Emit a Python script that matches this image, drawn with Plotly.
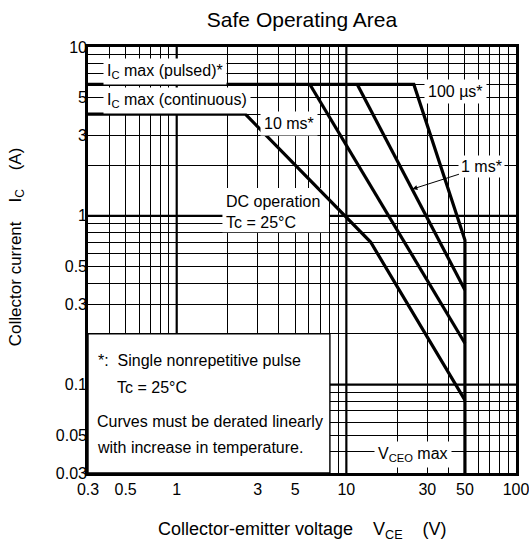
import numpy as np
import plotly.graph_objects as go

# ---------------- data ----------------
# Envelope: Ic max (pulsed) line, 100 us pulse limit, VCEO max
env_v = [0.3, 25, 50, 50]
env_i = [6, 6, 0.72, 0.03]
# 10 ms pulse
ms10_v = [6.1, 50]
ms10_i = [6, 0.176]
# 1 ms pulse
ms1_v = [11.6, 50]
ms1_i = [6, 0.364]
# DC operation (Ic max continuous)
dc_v = [0.3, 2.54, 13.9, 50]
dc_i = [4, 4, 0.70, 0.081]

x_ticks = [0.3, 0.5, 1, 3, 5, 10, 30, 50, 100]
x_ticktext = ["0.3", "0.5", "1", "3", "5", "10", "30", "50", "100"]
y_ticks = [0.03, 0.05, 0.1, 0.3, 0.5, 1, 3, 5, 10]
y_ticktext = ["0.03", "0.05", "0.1", "0.3", "0.5", "1", "3", "5", "10"]

x_minor = [0.3, 0.4, 0.5, 0.6, 0.7, 0.8, 0.9] + list(range(1, 10)) + list(range(10, 100, 10)) + [100]
y_minor = [0.03, 0.04, 0.05, 0.06, 0.07, 0.08, 0.09,
           0.1, 0.2, 0.3, 0.4, 0.5, 0.6, 0.7, 0.8, 0.9] + list(range(1, 11))
x_decades = [1, 10]
y_decades = [0.1, 1]

FONT = "Arial, Liberation Sans, Helvetica, sans-serif"
L = np.log10

fig = go.Figure()
line_style = dict(color="black", width=3.2)
for vx, iy in [(env_v, env_i), (ms10_v, ms10_i), (ms1_v, ms1_i), (dc_v, dc_i)]:
    fig.add_trace(go.Scatter(x=vx, y=iy, mode="lines", line=line_style,
                             hoverinfo="skip", showlegend=False))

shapes = []
for xv in x_decades:
    shapes.append(dict(type="line", xref="x", yref="paper", x0=xv, x1=xv, y0=0, y1=1,
                       line=dict(color="black", width=2.2), layer="between"))
for yv in y_decades:
    shapes.append(dict(type="line", xref="paper", yref="y", x0=0, x1=1, y0=yv, y1=yv,
                       line=dict(color="black", width=2.2), layer="between"))
# notes box
shapes.append(dict(type="rect", xref="x", yref="y", x0=0.3, x1=8, y0=0.03, y1=0.2,
                   fillcolor="white", line=dict(color="black", width=1.4), layer="between"))
# DC label background
shapes.append(dict(type="rect", xref="x", yref="y", x0=1.86, x1=7.9, y0=0.80, y1=1.46,
                   fillcolor="white", line=dict(width=0), layer="between"))

ann = []
lab = dict(font=dict(family=FONT, size=16, color="black"), showarrow=False,
           bgcolor="white", borderpad=3, xref="x", yref="y")
ann.append(dict(text="I<sub>C</sub> max (pulsed)*", x=L(0.368), y=L(7.2), xanchor="left", yanchor="middle", **lab))
ann.append(dict(text="I<sub>C</sub> max (continuous)", x=L(0.368), y=L(4.85), xanchor="left", yanchor="middle", **lab))
ann.append(dict(text="10 ms*", x=L(4.56), y=L(3.5), xanchor="center", yanchor="middle", **lab))
ann.append(dict(text="100 µs*", x=L(43.7), y=L(5.42), xanchor="center", yanchor="middle", **lab))
ann.append(dict(text="V<sub>CEO</sub> max", x=L(24.7), y=L(0.0384), xanchor="center", yanchor="middle", **lab))
ann.append(dict(text="1 ms*", x=L(24.5), y=L(1.44), ax=L(63), ay=L(1.95), axref="x", ayref="y",
                showarrow=True, arrowhead=2, arrowsize=1, arrowwidth=1, arrowcolor="black",
                font=dict(family=FONT, size=16, color="black"), bgcolor="white", borderpad=2,
                xref="x", yref="y"))
plain = dict(font=dict(family=FONT, size=16, color="black"), showarrow=False,
             xref="x", yref="y", xanchor="left", yanchor="middle", align="left")
ann.append(dict(text="DC operation<br>Tc = 25°C", x=L(1.91), y=L(1.05), **plain))
ann.append(dict(text="*:\u00a0\u00a0Single nonrepetitive pulse", x=L(0.334), y=L(0.140), **plain))
ann.append(dict(text="Tc = 25°C", x=L(0.433), y=L(0.0957), **plain))
ann.append(dict(text="Curves must be derated linearly", x=L(0.331), y=L(0.0603), **plain))
ann.append(dict(text="with increase in temperature.", x=L(0.331), y=L(0.0423), **plain))

# axis titles
sp = "\u00a0" * 4
ann.append(dict(text="Collector-emitter voltage" + sp + "V<sub>CE</sub>" + sp + "(V)",
                xref="paper", yref="paper", x=0.5, y=-0.135, xanchor="center", yanchor="middle",
                showarrow=False, font=dict(family=FONT, size=18, color="black")))
ann.append(dict(text="Collector current" + sp + "I<sub>C</sub>" + sp + "(A)",
                xref="paper", yref="paper", x=-0.166, y=0.53, xanchor="center", yanchor="middle",
                textangle=-90, showarrow=False, font=dict(family=FONT, size=17, color="black")))

axis_common = dict(type="log", showgrid=False, ticks="", showline=True, linewidth=2.6,
                   linecolor="black", mirror=True, zeroline=False, automargin=False,
                   ticklabeloverflow="allow",
                   tickfont=dict(family=FONT, size=16, color="black"))

fig.update_layout(
    width=529, height=547,
    margin=dict(l=88, r=13, t=47, b=74),
    paper_bgcolor="white", plot_bgcolor="white",
    title=dict(text="Safe Operating Area", x=0.5, xref="paper", xanchor="center",
               y=1 - 20 / 547, yref="container", yanchor="middle",
               font=dict(family=FONT, size=21, color="black")),
    xaxis=dict(range=[L(0.3), L(100)], tickvals=x_ticks, ticktext=x_ticktext,
               minor=dict(tickvals=x_minor, showgrid=True, gridcolor="black", gridwidth=1.2, ticks=""),
               **axis_common),
    yaxis=dict(range=[L(0.03), L(10)], tickvals=y_ticks, ticktext=y_ticktext,
               ticklabelstandoff=-5,
               minor=dict(tickvals=y_minor, showgrid=True, gridcolor="black", gridwidth=1.2, ticks=""),
               **axis_common),
    shapes=shapes,
    annotations=ann,
    showlegend=False,
)

fig.write_html("out.html")
